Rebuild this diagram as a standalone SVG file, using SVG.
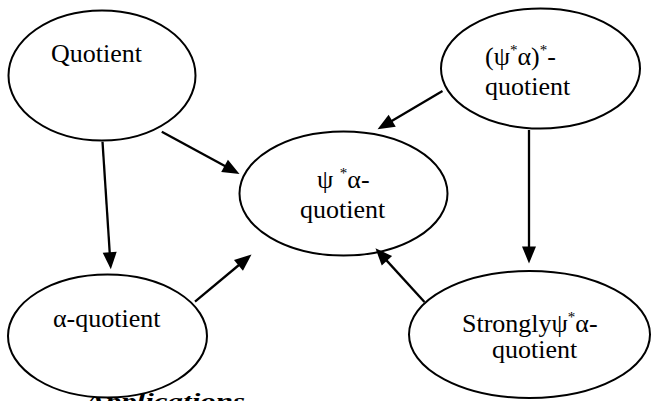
<svg xmlns="http://www.w3.org/2000/svg" width="651" height="401" viewBox="0 0 651 401">
<style>
.node ellipse{fill:#fff;stroke:#000;stroke-width:2}
text{font-family:'Liberation Serif','Times New Roman',serif;fill:#000}
.lbl{font-size:26px}
.sup{font-size:15px}
.edge line{stroke:#000;stroke-width:2.3}
.foot{font-size:22px;font-weight:bold;font-style:italic}
</style>
<defs>
<marker id="ah" markerUnits="userSpaceOnUse" markerWidth="20" markerHeight="16" refX="3" refY="7" orient="auto" overflow="visible">
<path d="M0,0 L17,7 L0,14 z" fill="#000"/>
</marker>
</defs>
<rect width="651" height="401" fill="#fff"/>
<text class="foot" x="85" y="408" textLength="160" lengthAdjust="spacingAndGlyphs">Applications</text>
<g id="quotient" class="node">
<ellipse cx="102" cy="75.5" rx="93.5" ry="65"/>
<text class="lbl" x="51" y="62">Quotient</text>
</g>
<g id="psialpha-star-quotient" class="node">
<ellipse cx="540.5" cy="68.5" rx="99.5" ry="60"/>
<text class="lbl" x="485" y="65">(ψ<tspan class="sup" dy="-10">*</tspan><tspan dy="10">α)</tspan><tspan class="sup" dy="-10">*</tspan><tspan dy="10">-</tspan></text>
<text class="lbl" x="485" y="95">quotient</text>
</g>
<g id="psi-alpha-quotient" class="node">
<ellipse cx="343.5" cy="193.5" rx="104" ry="62"/>
<text class="lbl" x="317" y="188">ψ <tspan class="sup" dy="-10">*</tspan><tspan dy="10">α-</tspan></text>
<text class="lbl" x="300" y="218">quotient</text>
</g>
<g id="alpha-quotient" class="node">
<ellipse cx="107.5" cy="336" rx="99.5" ry="61.5"/>
<text class="lbl" x="53" y="327">α-quotient</text>
</g>
<g id="strongly" class="node">
<ellipse cx="529.5" cy="334.5" rx="120.5" ry="63.5"/>
<text class="lbl" x="462" y="332">Stronglyψ<tspan class="sup" dy="-10">*</tspan><tspan dy="10">α-</tspan></text>
<text class="lbl" x="492" y="358">quotient</text>
</g>
<g id="connectors" class="edge">
<line x1="161.8" y1="131.7" x2="227.2" y2="167.3" marker-end="url(#ah)"/>
<line x1="102.5" y1="141.7" x2="109.9" y2="255.3" marker-end="url(#ah)"/>
<line x1="195" y1="301.7" x2="240.75" y2="263.5" marker-end="url(#ah)"/>
<line x1="442.5" y1="91" x2="389.6" y2="122.2" marker-end="url(#ah)"/>
<line x1="529" y1="130" x2="529" y2="249.5" marker-end="url(#ah)"/>
<line x1="424.5" y1="302" x2="384.9" y2="258.6" marker-end="url(#ah)"/>
</g>
</svg>
